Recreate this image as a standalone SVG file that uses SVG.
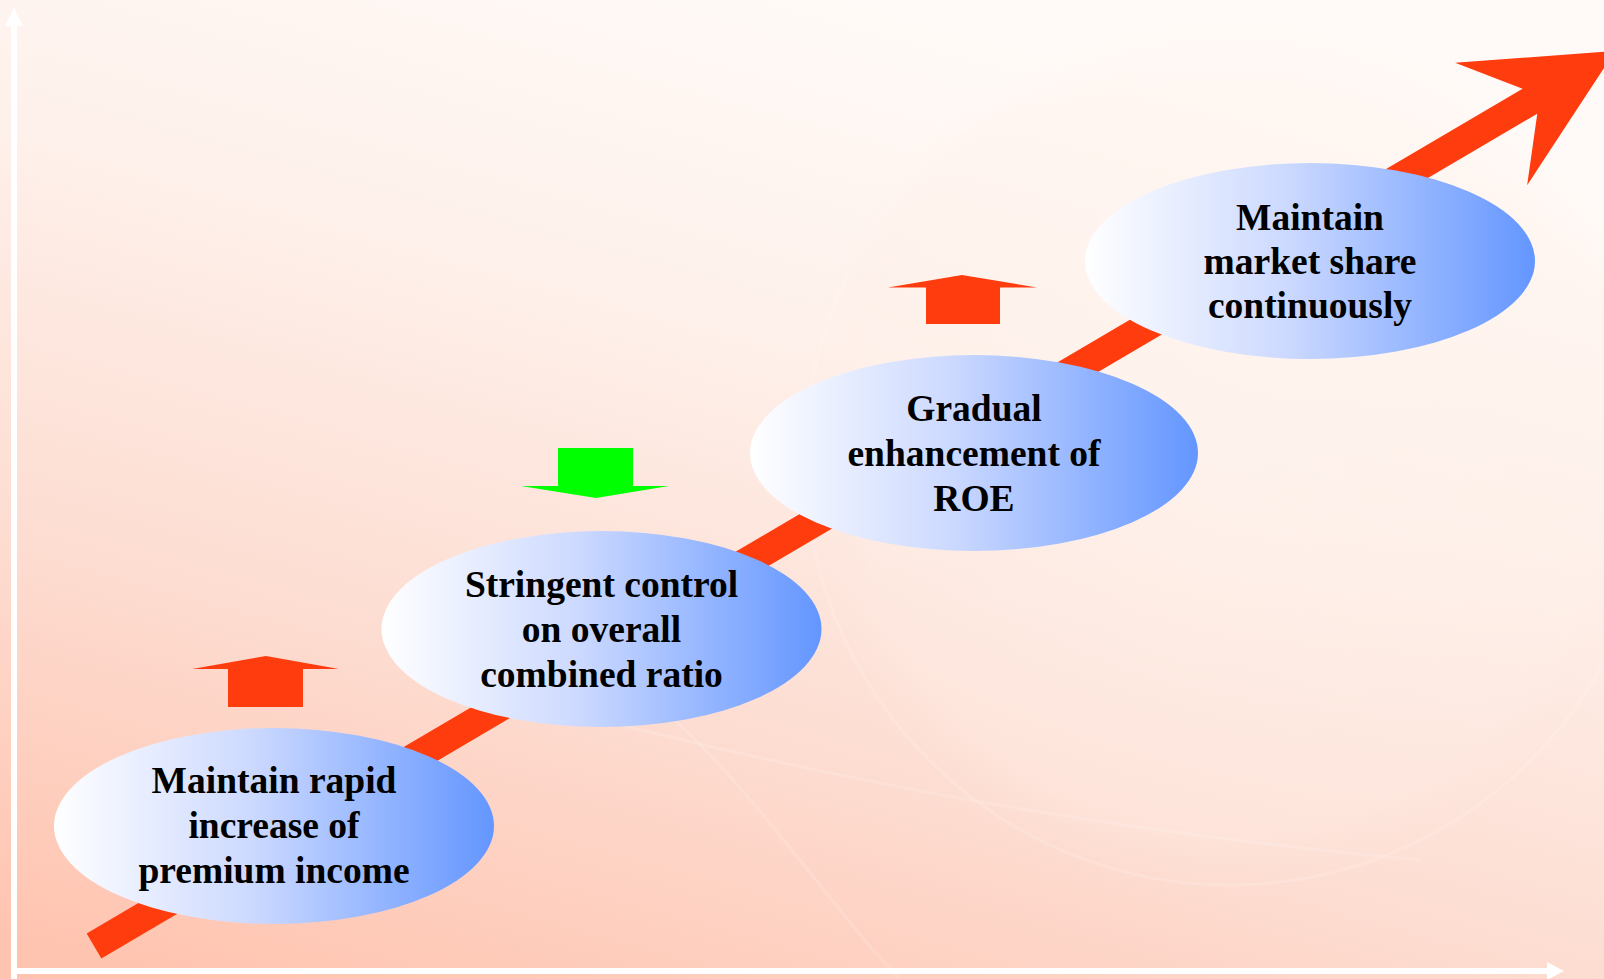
<svg xmlns="http://www.w3.org/2000/svg" width="1604" height="979" viewBox="0 0 1604 979">
  <defs>
    <linearGradient id="bg" x1="0.1" y1="1" x2="0.55" y2="0">
      <stop offset="0" stop-color="#FFC4B0"/>
      <stop offset="0.35" stop-color="#FDDDD2"/>
      <stop offset="0.7" stop-color="#FEF1EB"/>
      <stop offset="1" stop-color="#FFFAF7"/>
    </linearGradient>
    <radialGradient id="globe" cx="0.5" cy="0.5" r="0.5">
      <stop offset="0" stop-color="#FFF4EE" stop-opacity="0.5"/>
      <stop offset="0.85" stop-color="#FFF0E8" stop-opacity="0.3"/>
      <stop offset="1" stop-color="#FFE6DC" stop-opacity="0"/>
    </radialGradient>
    <linearGradient id="oval" x1="0" y1="0" x2="1" y2="0">
      <stop offset="0" stop-color="#FFFFFF"/>
      <stop offset="0.45" stop-color="#CCD9FF"/>
      <stop offset="1" stop-color="#6396FF"/>
    </linearGradient>
  </defs>
  <style>
    .node ellipse { fill: url(#oval); }
    .node text { font-family: "Liberation Serif", "Times New Roman", serif; font-weight: bold; font-size: 37.5px; fill: #000; text-anchor: middle; }
    .red { fill: #FF3C0E; }
    .green { fill: #00FF00; }
    .axis { stroke: #FFFFFF; stroke-width: 6; fill: none; }
  </style>

  <rect x="0" y="0" width="1604" height="979" fill="url(#bg)"/>
  <!-- faint globe -->
  <circle cx="1230" cy="460" r="440" fill="url(#globe)"/>
  <g fill="none" stroke="#FFFFFF" stroke-opacity="0.15" stroke-width="3">
    <circle cx="1230" cy="460" r="425"/>
    <path d="M520,700 C760,760 1000,820 1420,860"/>
    <path d="M560,640 C700,700 820,900 900,979"/>
  </g>

  <!-- axes -->
  <g id="axes">
    <line class="axis" x1="14" y1="979" x2="14" y2="26"/>
    <path d="M5,26 L14,8 L23,26 z" fill="#FFFFFF"/>
    <line class="axis" x1="17" y1="971" x2="1548" y2="971"/>
    <path d="M1547,962 L1564,971 L1547,980 z" fill="#FFFFFF"/>
  </g>

  <!-- big rising arrow -->
  <g id="connectors">
    <polygon class="red" transform="translate(94,946) rotate(-30.47)"
      points="0,-14.5 1666,-14.5 1621,-71 1765,0 1621,71 1666,14.5 0,14.5"/>
  </g>

  <!-- small indicator arrows -->
  <g id="arrow-up-1">
    <polygon class="red" points="266,656 339,669 303,669 303,707 228,707 228,669 192,669"/>
  </g>
  <g id="arrow-down">
    <polygon class="green" points="558,448 633,448 633,486 669,486 596,498 521,486 558,486"/>
  </g>
  <g id="arrow-up-2">
    <polygon class="red" points="962,275 1037,287.5 1000,287.5 1000,324 926,324 926,287.5 888,287.5"/>
  </g>

  <g id="node1" class="node">
    <ellipse cx="274" cy="826" rx="220" ry="98"/>
    <text x="274" y="793">Maintain rapid</text>
    <text x="274" y="838">increase of</text>
    <text x="274" y="883">premium income</text>
  </g>
  <g id="node2" class="node">
    <ellipse cx="601.5" cy="629" rx="220" ry="98"/>
    <text x="601.5" y="597">Stringent control</text>
    <text x="601.5" y="642">on overall</text>
    <text x="601.5" y="687">combined ratio</text>
  </g>
  <g id="node3" class="node">
    <ellipse cx="974" cy="453" rx="224" ry="98"/>
    <text x="974" y="421">Gradual</text>
    <text x="974" y="466">enhancement of</text>
    <text x="974" y="511">ROE</text>
  </g>
  <g id="node4" class="node">
    <ellipse cx="1310" cy="261" rx="225" ry="98"/>
    <text x="1310" y="230">Maintain</text>
    <text x="1310" y="274">market share</text>
    <text x="1310" y="318">continuously</text>
  </g>
</svg>
